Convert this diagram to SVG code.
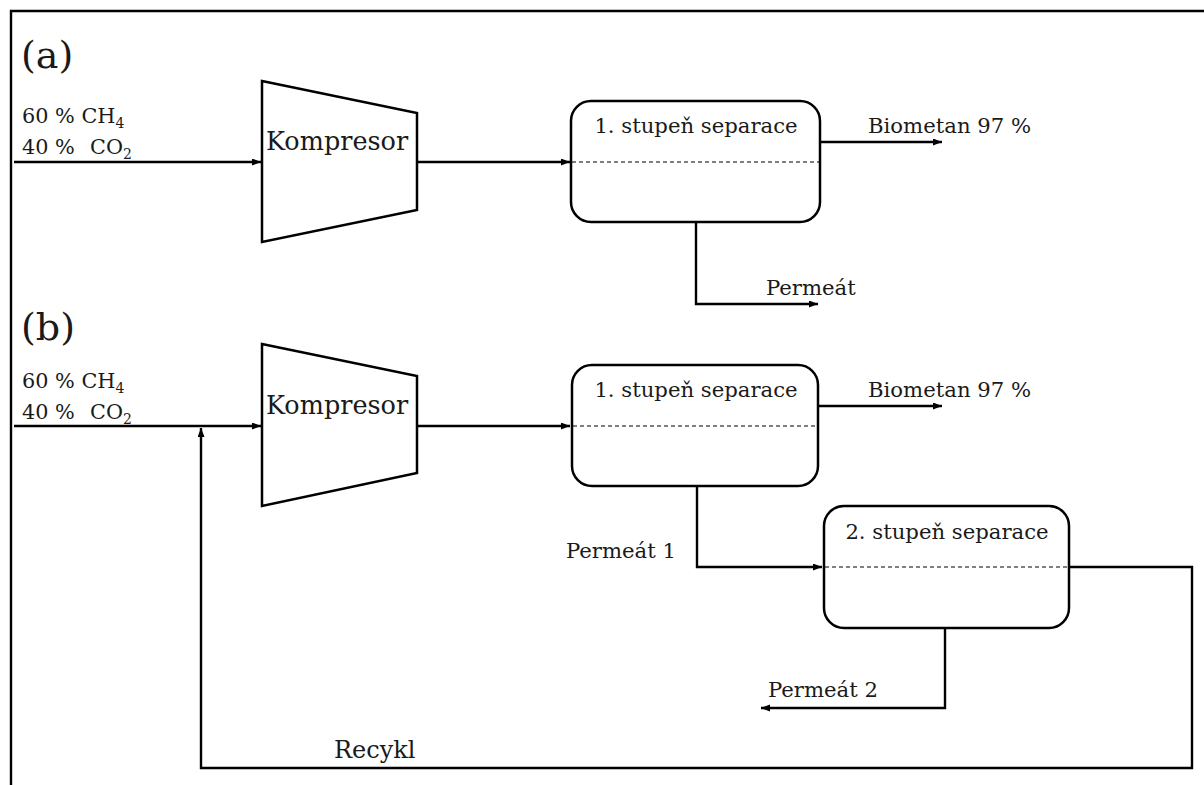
<svg xmlns="http://www.w3.org/2000/svg" width="1204" height="785" viewBox="0 0 1204 785">
<style>
.ln{fill:none;stroke:#000;stroke-width:2.4}
.box{fill:#fff;stroke:#000;stroke-width:2.5}
.dash{fill:none;stroke:#000;stroke-width:1.1;stroke-dasharray:4 3}
text{font-family:"DejaVu Serif","Liberation Serif",serif;fill:#1a1a1a}
.t21{font-size:21.2px}
.t20{font-size:20.8px}
.lab{font-size:38px}
.kom{font-size:25.5px}
.sub{font-size:14px}
</style>
<defs>
<marker id="ah" markerUnits="userSpaceOnUse" markerWidth="10" markerHeight="8" refX="9" refY="3.5" orient="auto">
<path d="M0,0 L9,3.5 L0,7 z" fill="#000"/>
</marker>
</defs>
<rect width="1204" height="785" fill="#fff"/>
<path class="ln" d="M1210,11 H11 V790"/>

<text class="lab" x="21" y="68">(a)</text>
<text class="lab" x="21" y="340">(b)</text>

<g id="feed-a">
<text class="t20" x="22" y="123">60 % CH<tspan class="sub" dy="5">4</tspan></text>
<text class="t20" x="22" y="154">40 % <tspan x="90">CO</tspan><tspan class="sub" dy="5">2</tspan></text>
</g>
<g id="feed-b">
<text class="t20" x="22" y="388">60 % CH<tspan class="sub" dy="5">4</tspan></text>
<text class="t20" x="22" y="419">40 % <tspan x="90">CO</tspan><tspan class="sub" dy="5">2</tspan></text>
</g>

<g id="connectors">
<!-- (a) -->
<path class="ln" d="M14,162 H261" marker-end="url(#ah)"/>
<path class="ln" d="M417,162 H570" marker-end="url(#ah)"/>
<path class="ln" d="M820,142 H942" marker-end="url(#ah)"/>
<path class="ln" d="M696,222 V304 H818" marker-end="url(#ah)"/>
<!-- (b) -->
<path class="ln" d="M14,426 H261" marker-end="url(#ah)"/>
<path class="ln" d="M417,426 H570" marker-end="url(#ah)"/>
<path class="ln" d="M818,406 H942" marker-end="url(#ah)"/>
<path class="ln" d="M697,486 V567 H822" marker-end="url(#ah)"/>
<path class="ln" d="M945,628 V708 H761" marker-end="url(#ah)"/>
<path class="ln" d="M1069,567 H1192 V768 H201 V428" marker-end="url(#ah)"/>
</g>

<g id="kompresor-a">
<polygon class="box" points="262,81 417,113 417,210 262,242"/>
<text class="kom" x="266" y="150">Kompresor</text>
</g>
<g id="separace1-a">
<rect class="box" x="571" y="101" width="249" height="121" rx="20"/>
<line class="dash" x1="572" y1="162" x2="819" y2="162"/>
<text class="t21" x="696" y="133" text-anchor="middle">1. stupeň separace</text>
</g>
<text class="t21" x="868" y="133">Biometan 97 %</text>
<text class="t21" x="766" y="295">Permeát</text>

<g id="kompresor-b">
<polygon class="box" points="262,344 417,376 417,473 262,506"/>
<text class="kom" x="266" y="414">Kompresor</text>
</g>
<g id="separace1-b">
<rect class="box" x="572" y="365" width="246" height="121" rx="20"/>
<line class="dash" x1="573" y1="426" x2="817" y2="426"/>
<text class="t21" x="696" y="397" text-anchor="middle">1. stupeň separace</text>
</g>
<g id="separace2-b">
<rect class="box" x="824" y="506" width="245" height="122" rx="20"/>
<line class="dash" x1="825" y1="567" x2="1068" y2="567"/>
<text class="t21" x="947" y="539" text-anchor="middle">2. stupeň separace</text>
</g>
<text class="t21" x="868" y="397">Biometan 97 %</text>
<text class="t21" x="566" y="558">Permeát 1</text>
<text class="t21" x="768" y="697">Permeát 2</text>
<text class="t21" x="334" y="758" style="font-size:24px">Recykl</text>
</svg>
